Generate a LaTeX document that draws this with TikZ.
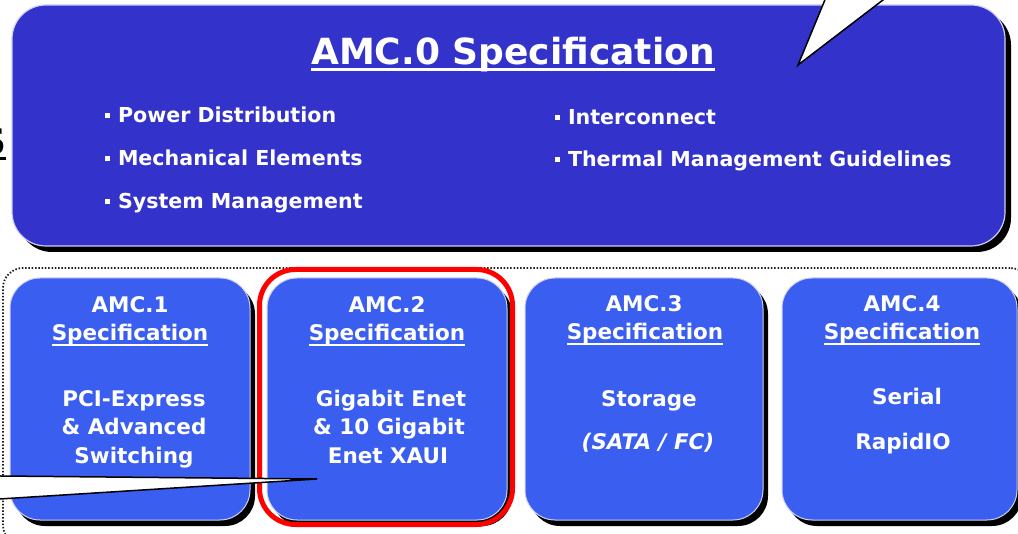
\documentclass[tikz,border=0pt]{standalone}
\usepackage{fontspec}
\setmainfont{DejaVu Sans}
\usetikzlibrary{shadows}
\definecolor{topblue}{RGB}{51,51,204}
\definecolor{boxblue}{RGB}{58,94,240}
\definecolor{edgecol}{RGB}{205,208,245}
\definecolor{dotgray}{RGB}{30,30,30}
\newcommand\myul[3]{\setbox0\hbox{#1}\rlap{\rule[#2]{\wd0}{#3}}\box0}
\newcommand\bul{\rule[4.5pt]{5pt}{5pt}\hspace{8pt}}
\begin{document}
\begin{tikzpicture}[x=1pt,y=-1pt,
  every node/.style={inner sep=0pt, outer sep=0pt},
  topbox/.style={rectangle, rounded corners=34pt, fill=topblue, draw=edgecol, line width=1.2pt,
    general shadow={fill=black, shadow xshift=6pt, shadow yshift=-6pt}},
  subbox/.style={rectangle, rounded corners=30pt, fill=boxblue, draw=edgecol, line width=1pt,
    minimum height=242pt, general shadow={fill=black, shadow xshift=5pt, shadow yshift=-6pt}},
  groupbox/.style={rectangle, rounded corners=20pt, draw=dotgray, line width=1.8pt, dash pattern=on 1.5pt off 1.8pt},
  hlbox/.style={rectangle, rounded corners=36pt, draw=red, line width=5pt, minimum width=253pt, minimum height=255pt},
  titletxt/.style={anchor=base, text=white, font=\fontsize{36}{40}\selectfont\bfseries},
  bullettxt/.style={anchor=base west, text=white, font=\fontsize{20.6}{24}\selectfont\bfseries},
  boxtxt/.style={anchor=base, text=white, font=\fontsize{21.5}{26}\selectfont\bfseries},
  callout/.style={fill=white, draw=black, line width=1.5pt, line join=miter}
]
\useasboundingbox (0,0) rectangle (1018,534);
\clip (0,0) rectangle (1018,534);
\fill[white] (0,0) rectangle (1018,534);

% lower group
\node[groupbox, minimum width=1027pt, minimum height=277pt] (grp) at (516.5,406.5) {};
\node[subbox, minimum width=240pt] (amc1) at (130,399) {};
\node[subbox, minimum width=240pt] (amc2) at (387,399) {};
\node[subbox, minimum width=238pt] (amc3) at (644,399) {};
\node[subbox, minimum width=235pt] (amc4) at (899.5,399) {};
\node[hlbox] (hl) at (386,397) {};

% top box
\node[topbox, minimum width=993pt, minimum height=241pt] (amc0) at (508.5,125.5) {};
\node[titletxt] (title) at (513,65) {\myul{AMC.0 Specification}{-6pt}{2.5pt}};
\node[bullettxt] (b1) at (105,123) {\bul Power Distribution};
\node[bullettxt] (b2) at (105,166) {\bul Mechanical Elements};
\node[bullettxt] (b3) at (105,209) {\bul System Management};
\node[bullettxt] (b4) at (555,125) {\bul Interconnect};
\node[bullettxt] (b5) at (555,167) {\bul Thermal Management Guidelines};

% box texts
\node[boxtxt] (a1h) at (130,313) {AMC.1};
\node[boxtxt] (a1s) at (130,341) {\myul{Specification}{-5pt}{2pt}};
\node[boxtxt] (a1l1) at (134,407) {PCI-Express};
\node[boxtxt] (a1l2) at (134,435) {\& Advanced};
\node[boxtxt] (a1l3) at (134,464) {Switching};

\node[boxtxt] (a2h) at (387,313) {AMC.2};
\node[boxtxt] (a2s) at (387,341) {\myul{Specification}{-5pt}{2pt}};
\node[boxtxt] (a2l1) at (391,407) {Gigabit Enet};
\node[boxtxt] (a2l2) at (389,435) {\& 10 Gigabit};
\node[boxtxt] (a2l3) at (388,464) {Enet XAUI};

\node[boxtxt] (a3h) at (644,312) {AMC.3};
\node[boxtxt] (a3s) at (645,340) {\myul{Specification}{-5pt}{2pt}};
\node[boxtxt] (a3l1) at (649,407) {Storage};
\node[boxtxt] (a3l2) at (648,450) {\itshape (SATA / FC)};

\node[boxtxt] (a4h) at (902,312) {AMC.4};
\node[boxtxt] (a4s) at (902,340) {\myul{Specification}{-5pt}{2pt}};
\node[boxtxt] (a4l1) at (907,405) {Serial};
\node[boxtxt] (a4l2) at (903,450) {RapidIO};

% callouts
\coordinate (t0) at (798,65);
\coordinate (t1) at (829,-10);
\coordinate (t2) at (896,-10);
\draw[callout] (t1) -- (t0) -- (t2);
\coordinate (u0) at (317,479);
\coordinate (u1) at (-10,475.9);
\coordinate (u2) at (-10,499.6);
\draw[callout] (u1) -- (u0) -- (u2);

% fragment of text cut by the left edge
\node[anchor=base east, text=black, font=\fontsize{36}{40}\selectfont\bfseries] (frag) at (6,155) {\myul{S}{-5pt}{3pt}};
\end{tikzpicture}
\end{document}
